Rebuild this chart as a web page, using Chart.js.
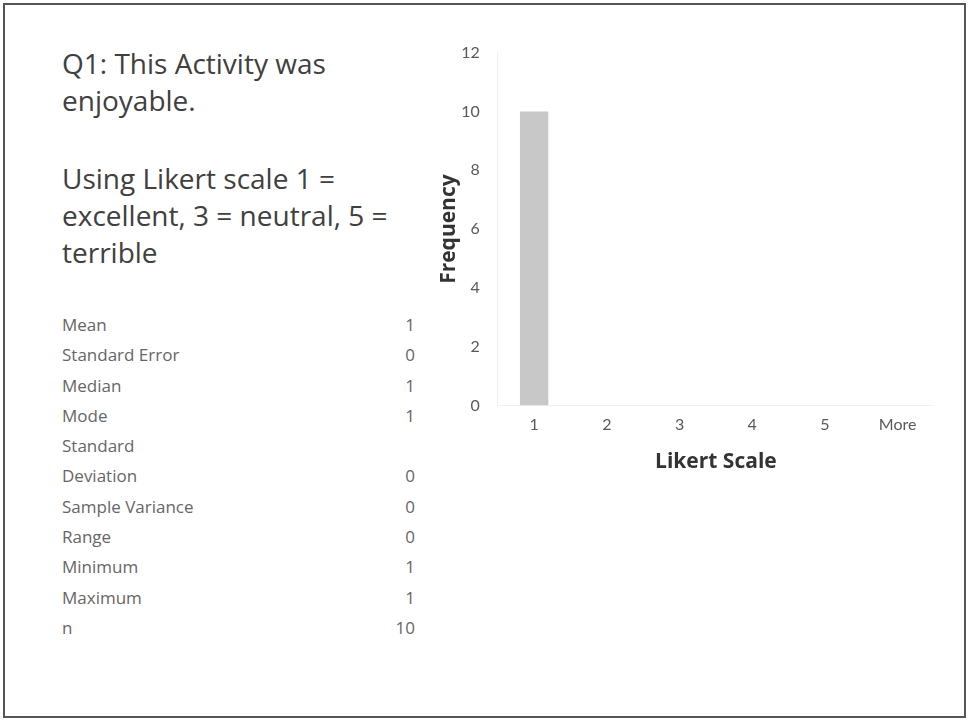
<!DOCTYPE html>
<html>
<head>
<meta charset="utf-8">
<script src="https://cdn.jsdelivr.net/npm/chart.js@4"></script>
<style>
  html, body { margin: 0; padding: 0; background: #fff; }
  #slide {
    position: absolute; left: 3px; top: 3px; width: 963px; height: 715px;
    border: 2px solid #555; box-sizing: border-box; background: #fff;
    font-family: "Open Sans", Lato, sans-serif;
  }
  #title {
    position: absolute; left: 57px; top: 40px; width: 400px;
    font-size: 28px; line-height: 37px; color: #404040;
  }
  #stats {
    position: absolute; left: 57px; top: 305px; width: 353px;
    font-size: 17px; line-height: 30.3px; color: #666;
  }
  #stats .row { display: flex; justify-content: space-between; }
  #chartBox { position: absolute; left: 427px; top: 20px; width: 502px; height: 454px; }
</style>
</head>
<body>
<div id="slide">
  <div id="title">
    <div>Q1: This Activity was</div>
    <div>enjoyable.</div>
    <div style="height:41px"></div>
    <div>Using Likert scale 1 =</div>
    <div>excellent, 3 = neutral, 5 =</div>
    <div>terrible</div>
  </div>
  <div id="stats"></div>
  <div id="chartBox"><canvas id="chart"></canvas></div>
</div>
<script>
const categories = ["1", "2", "3", "4", "5", "More"];
const frequency = [10, 0, 0, 0, 0, 0];
const yTicksMax = 12;
const statLabels = ["Mean", "Standard Error", "Median", "Mode", "Standard", "Deviation", "Sample Variance", "Range", "Minimum", "Maximum", "n"];
const statValues = ["1", "0", "1", "1", "", "0", "0", "0", "1", "1", "10"];

const statsEl = document.getElementById("stats");
statLabels.forEach((label, i) => {
  const row = document.createElement("div");
  row.className = "row";
  row.innerHTML = "<span>" + label + "</span><span>" + statValues[i] + "</span>";
  statsEl.appendChild(row);
});

const ctx = document.getElementById("chart");
new Chart(ctx, {
  type: "bar",
  data: {
    labels: categories,
    datasets: [{
      label: "Frequency",
      data: frequency,
      backgroundColor: "#c8c8c8",
      borderWidth: 0,
      barPercentage: 0.39,
      categoryPercentage: 1,
    }],
  },
  options: {
    responsive: true,
    maintainAspectRatio: false,
    animation: false,
    layout: { padding: { top: 10, right: 0, left: 0, bottom: 0 } },
    scales: {
      x: {
        grid: { display: false, drawTicks: false },
        border: { color: "#f0f0f0" },
        ticks: { color: "#595959", font: { family: "Lato", size: 16 }, padding: 10 },
        title: { display: true, text: "Likert Scale", color: "#333", font: { family: "Open Sans", size: 21, weight: "bold" }, padding: { top: 5 } },
      },
      y: {
        min: 0,
        max: yTicksMax,
        grid: { display: false, drawTicks: false },
        border: { color: "#f0f0f0" },
        ticks: { stepSize: 2, color: "#595959", font: { family: "Lato", size: 16 }, padding: 18 },
        title: { display: true, text: "Frequency", color: "#333", font: { family: "Open Sans", size: 21, weight: "bold" }, padding: { top: 4, bottom: -18 } },
      },
    },
    plugins: { legend: { display: false }, tooltip: { enabled: false } },
  },
});
</script>
</body>
</html>
